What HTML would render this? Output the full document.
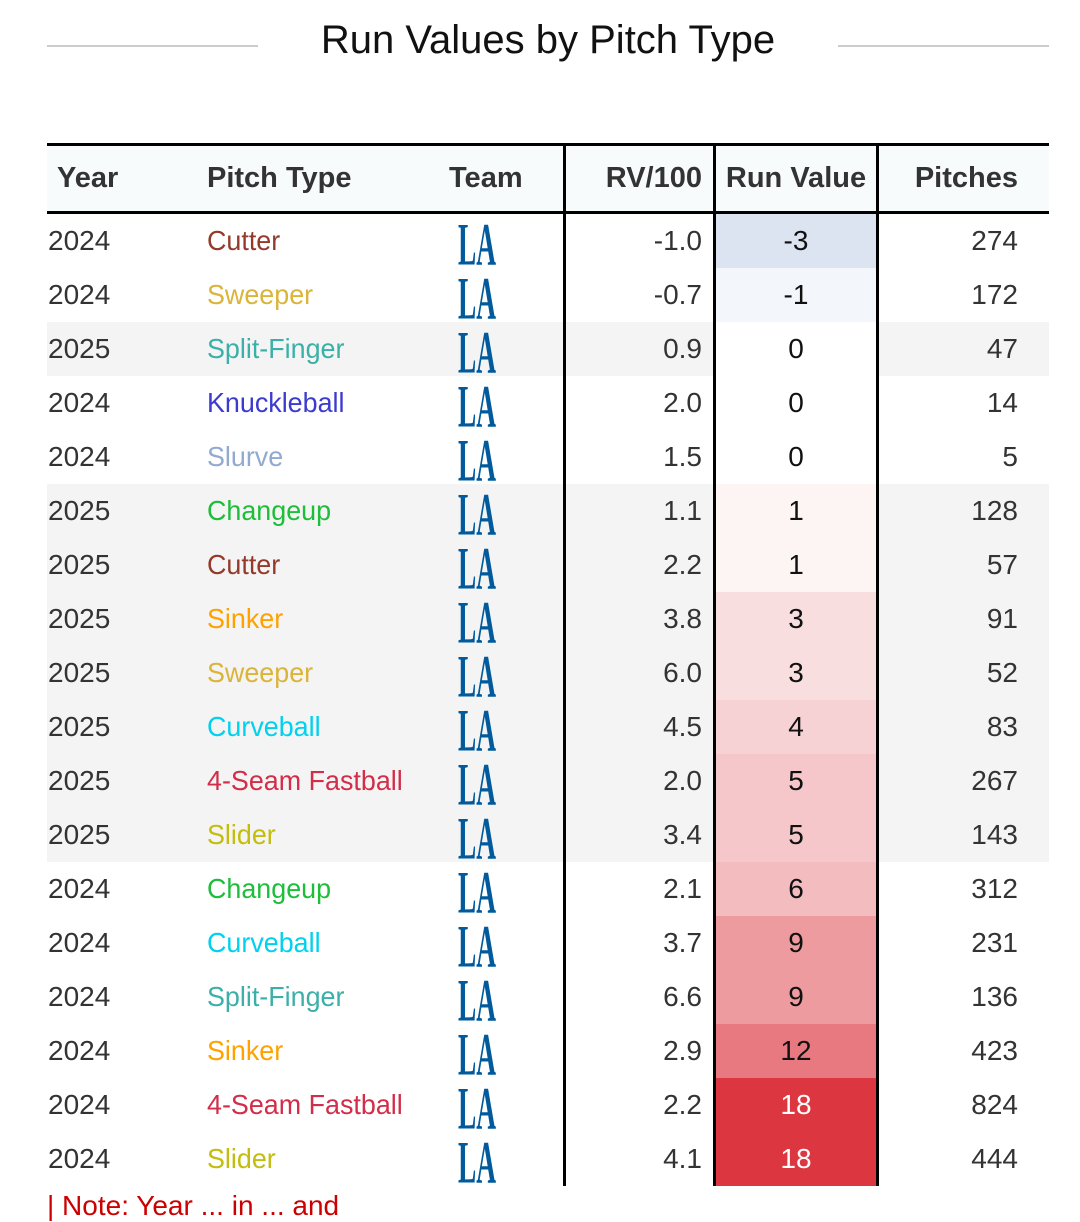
<!DOCTYPE html>
<html><head><meta charset="utf-8"><style>
body{margin:0;width:1080px;height:1200px;overflow:hidden;background:#fff;position:relative;font-family:"Liberation Sans Narrow","Liberation Sans",sans-serif}
.abs{position:absolute}
.title{left:0;width:1096px;top:18px;text-align:center;font-size:40px;color:#111;font-family:"Liberation Sans Narrow","Liberation Sans",sans-serif}
.hl{height:2px;background:#ccc;top:45px}
.hdr{top:146px;left:47px;width:1002px;height:66px;background:#f7fbfc}
.ht{top:162px;font-size:29px;font-weight:bold;color:#333;font-family:"Liberation Sans",sans-serif;white-space:nowrap}
.cell{font-size:28px;color:#333;white-space:nowrap;line-height:54px;height:54px}
.vl{width:3px;background:#000;top:146px;height:1040px}
</style></head><body>
<div class="abs title">Run Values by Pitch Type</div>
<div class="abs hl" style="left:47px;width:211px"></div>
<div class="abs hl" style="left:838px;width:211px"></div>
<div class="abs" style="left:47px;top:143px;width:1002px;height:3px;background:#000"></div>
<div class="abs hdr"></div>
<div class="abs" style="left:47px;top:211px;width:1002px;height:3px;background:#000"></div>
<div class="abs ht" style="left:57px">Year</div>
<div class="abs ht" style="left:207px">Pitch Type</div>
<div class="abs ht" style="left:449px">Team</div>
<div class="abs ht" style="left:560px;width:142px;text-align:right">RV/100</div>
<div class="abs ht" style="left:715px;width:162px;text-align:center">Run Value</div>
<div class="abs ht" style="left:880px;width:138px;text-align:right">Pitches</div>
<div id="rows"></div>
<div class="abs vl" style="left:563px"></div>
<div class="abs vl" style="left:713px"></div>
<div class="abs vl" style="left:876px"></div>
<div class="abs" style="left:47px;top:1190px;font-size:28px;color:#c00;white-space:nowrap">| Note: Year ... in ... and</div>
<script>
const years=[2024,2024,2025,2024,2024,2025,2025,2025,2025,2025,2025,2025,2024,2024,2024,2024,2024,2024];
const pitchTypes=["Cutter","Sweeper","Split-Finger","Knuckleball","Slurve","Changeup","Cutter","Sinker","Sweeper","Curveball","4-Seam Fastball","Slider","Changeup","Curveball","Split-Finger","Sinker","4-Seam Fastball","Slider"];
const rv100=["-1.0","-0.7","0.9","2.0","1.5","1.1","2.2","3.8","6.0","4.5","2.0","3.4","2.1","3.7","6.6","2.9","2.2","4.1"];
const runValues=[-3,-1,0,0,0,1,1,3,3,4,5,5,6,9,9,12,18,18];
const pitches=[274,172,47,14,5,128,57,91,52,83,267,143,312,231,136,423,824,444];
const pitchColors={"Cutter":"#933a2a","Sweeper":"#dbb43a","Split-Finger":"#3bb0a8","Knuckleball":"#3b3bd0","Slurve":"#93aad0","Changeup":"#1dbe3a","Sinker":"#ffa200","Curveball":"#00d1ed","4-Seam Fastball":"#d22d49","Slider":"#c3bd0e"};
function mix(a,b,t){return a.map((v,i)=>Math.round(v+(b[i]-v)*t));}
function rvColor(v){
  if(v<0){const c=mix([255,255,255],[196,208,232],Math.min(1,-v/5));return `rgb(${c})`;}
  const c=mix([255,255,255],[220,54,64],Math.min(1,v/18));return `rgb(${c})`;
}
const rowsEl=document.getElementById('rows');
const top0=214,rh=54;
const logo='<svg width="42" height="54" viewBox="0 0 42 54"><text x="1" y="33" font-family="Liberation Serif,serif" font-weight="bold" font-size="40" fill="#005a9c" transform="scale(1,1.5)" textLength="38" lengthAdjust="spacingAndGlyphs">LA</text></svg>';
years.forEach((y,i)=>{
  const t=top0+i*rh;
  const row=document.createElement('div');
  
  
  row.className='abs';
  row.style.cssText=`left:47px;top:${t}px;width:1002px;height:${rh}px;background:${y===2025?'#f4f4f4':'#fff'}`;
  rowsEl.appendChild(row);
  const mk=(name,html,css)=>{const d=document.createElement('div');d.className='abs cell';d.style.cssText=`top:${t}px;`+css;d.innerHTML=html;
    
    
    rowsEl.appendChild(d);return d;};
  mk('year-cell',y,'left:48px');
  mk('pitch-type-cell',pitchTypes[i],`left:207px;color:${pitchColors[pitchTypes[i]]};transform:scaleX(0.96);transform-origin:left`);
  mk('team-logo',logo,'left:457px;top:'+(t+1)+'px;line-height:0');
  mk('rv100-cell',rv100[i],'left:565px;width:137px;text-align:right');
  const v=runValues[i];
  mk('run-value-cell',v,`left:715px;width:162px;text-align:center;background:${rvColor(v)};color:${v>=15?'#fff':'#111'}`);
  mk('pitches-cell',pitches[i],'left:880px;width:138px;text-align:right');
});
</script>
</body></html>
